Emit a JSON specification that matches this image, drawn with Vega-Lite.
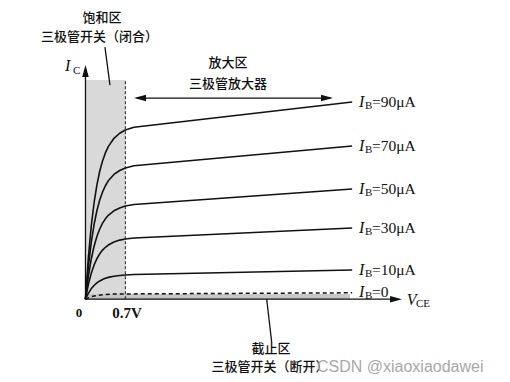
{
  "$schema": "https://vega.github.io/schema/vega-lite/v6.json",
  "width": 510,
  "height": 382,
  "padding": 0,
  "autosize": {"type": "fit", "contains": "padding"},
  "background": "white",
  "config": {"view": {"stroke": null}},
  "datasets": {
    "curves": [
      {"ib": "90", "v": 0, "i": 0}, {"ib": "90", "v": 0.05, "i": 2.19}, {"ib": "90", "v": 0.1, "i": 3.84}, {"ib": "90", "v": 0.15, "i": 5.10}, {"ib": "90", "v": 0.2, "i": 6.06}, {"ib": "90", "v": 0.25, "i": 6.80}, {"ib": "90", "v": 0.3, "i": 7.35}, {"ib": "90", "v": 0.35, "i": 7.78}, {"ib": "90", "v": 0.4, "i": 8.11}, {"ib": "90", "v": 0.5, "i": 8.55}, {"ib": "90", "v": 0.6, "i": 8.82}, {"ib": "90", "v": 0.7, "i": 8.99}, {"ib": "90", "v": 0.85, "i": 9.14}, {"ib": "90", "v": 4.68, "i": 10.48},
      {"ib": "70", "v": 0, "i": 0}, {"ib": "70", "v": 0.05, "i": 1.70}, {"ib": "70", "v": 0.1, "i": 2.98}, {"ib": "70", "v": 0.15, "i": 3.95}, {"ib": "70", "v": 0.2, "i": 4.70}, {"ib": "70", "v": 0.25, "i": 5.27}, {"ib": "70", "v": 0.3, "i": 5.70}, {"ib": "70", "v": 0.35, "i": 6.03}, {"ib": "70", "v": 0.4, "i": 6.29}, {"ib": "70", "v": 0.5, "i": 6.63}, {"ib": "70", "v": 0.6, "i": 6.84}, {"ib": "70", "v": 0.7, "i": 6.97}, {"ib": "70", "v": 0.85, "i": 7.09}, {"ib": "70", "v": 4.68, "i": 8.14},
      {"ib": "50", "v": 0, "i": 0}, {"ib": "50", "v": 0.05, "i": 1.20}, {"ib": "50", "v": 0.1, "i": 2.11}, {"ib": "50", "v": 0.15, "i": 2.80}, {"ib": "50", "v": 0.2, "i": 3.33}, {"ib": "50", "v": 0.25, "i": 3.73}, {"ib": "50", "v": 0.3, "i": 4.04}, {"ib": "50", "v": 0.35, "i": 4.27}, {"ib": "50", "v": 0.4, "i": 4.46}, {"ib": "50", "v": 0.5, "i": 4.70}, {"ib": "50", "v": 0.6, "i": 4.85}, {"ib": "50", "v": 0.7, "i": 4.95}, {"ib": "50", "v": 0.85, "i": 5.03}, {"ib": "50", "v": 4.68, "i": 5.86},
      {"ib": "30", "v": 0, "i": 0}, {"ib": "30", "v": 0.05, "i": 0.78}, {"ib": "30", "v": 0.1, "i": 1.36}, {"ib": "30", "v": 0.15, "i": 1.81}, {"ib": "30", "v": 0.2, "i": 2.15}, {"ib": "30", "v": 0.25, "i": 2.41}, {"ib": "30", "v": 0.3, "i": 2.61}, {"ib": "30", "v": 0.35, "i": 2.76}, {"ib": "30", "v": 0.4, "i": 2.88}, {"ib": "30", "v": 0.5, "i": 3.04}, {"ib": "30", "v": 0.6, "i": 3.14}, {"ib": "30", "v": 0.7, "i": 3.20}, {"ib": "30", "v": 0.85, "i": 3.25}, {"ib": "30", "v": 4.68, "i": 3.78},
      {"ib": "10", "v": 0, "i": 0}, {"ib": "10", "v": 0.05, "i": 0.31}, {"ib": "10", "v": 0.1, "i": 0.55}, {"ib": "10", "v": 0.15, "i": 0.73}, {"ib": "10", "v": 0.2, "i": 0.87}, {"ib": "10", "v": 0.25, "i": 0.97}, {"ib": "10", "v": 0.3, "i": 1.05}, {"ib": "10", "v": 0.35, "i": 1.11}, {"ib": "10", "v": 0.4, "i": 1.16}, {"ib": "10", "v": 0.5, "i": 1.22}, {"ib": "10", "v": 0.6, "i": 1.26}, {"ib": "10", "v": 0.7, "i": 1.29}, {"ib": "10", "v": 0.85, "i": 1.31}, {"ib": "10", "v": 4.68, "i": 1.55}
    ],
    "cutoff": [
      {"v": 0, "i": 0}, {"v": 0.05, "i": 0.07}, {"v": 0.1, "i": 0.13}, {"v": 0.15, "i": 0.17}, {"v": 0.2, "i": 0.2}, {"v": 0.3, "i": 0.24}, {"v": 0.45, "i": 0.27}, {"v": 0.7, "i": 0.28}, {"v": 4.68, "i": 0.34}
    ],
    "regions": [
      {"region": "saturation", "v": 0, "v2": 0.7, "i": 0, "i2": 11.65},
      {"region": "cutoff", "v": 0, "v2": 4.64, "i": 0, "i2": 0.28}
    ],
    "segments": [
      {"seg": "yaxis", "v": 0, "v2": 0, "i": 0, "i2": 12.2},
      {"seg": "xaxis", "v": 0, "v2": 5.4, "i": 0, "i2": 0},
      {"seg": "active", "v": 0.9, "v2": 4.3, "i": 10.69, "i2": 10.69},
      {"seg": "leader1", "v": 0.342, "v2": 0.43, "i": 13.4, "i2": 11.38},
      {"seg": "leader2", "v": 3.18, "v2": 3.268, "i": 0.01, "i2": -2.29}
    ],
    "heads": [
      {"dir": "up", "v": 0, "i": 12.13},
      {"dir": "right", "v": 5.45, "i": 0},
      {"dir": "left", "v": 0.957, "i": 10.69},
      {"dir": "right", "v": 4.238, "i": 10.69}
    ],
    "labels": [
      {"role": "cjk", "text": "饱和区", "v": 0.29, "i": 14.94},
      {"role": "cjk", "text": "三极管开关（闭合）", "v": 0.246, "i": 13.93},
      {"role": "cjk", "text": "放大区", "v": 2.5, "i": 12.55},
      {"role": "cjk", "text": "三极管放大器", "v": 2.5, "i": 11.44},
      {"role": "cjk", "text": "截止区", "v": 3.256, "i": -2.66},
      {"role": "cjk", "text": "三极管开关（断开）", "v": 3.24, "i": -3.61},
      {"role": "ital", "text": "I", "v": -0.36, "i": 12.39},
      {"role": "sub", "text": "C", "v": -0.219, "i": 12.13},
      {"role": "ital", "text": "V", "v": 5.64, "i": -0.04},
      {"role": "sub", "text": "CE", "v": 5.8, "i": -0.26},
      {"role": "ital", "text": "I", "v": 4.8, "i": 10.48},
      {"role": "sub", "text": "B", "v": 4.905, "i": 10.27},
      {"role": "val", "text": "=90μA", "v": 5.028, "i": 10.48},
      {"role": "ital", "text": "I", "v": 4.8, "i": 8.14},
      {"role": "sub", "text": "B", "v": 4.905, "i": 7.93},
      {"role": "val", "text": "=70μA", "v": 5.028, "i": 8.14},
      {"role": "ital", "text": "I", "v": 4.8, "i": 5.86},
      {"role": "sub", "text": "B", "v": 4.905, "i": 5.65},
      {"role": "val", "text": "=50μA", "v": 5.028, "i": 5.86},
      {"role": "ital", "text": "I", "v": 4.8, "i": 3.78},
      {"role": "sub", "text": "B", "v": 4.905, "i": 3.57},
      {"role": "val", "text": "=30μA", "v": 5.028, "i": 3.78},
      {"role": "ital", "text": "I", "v": 4.8, "i": 1.55},
      {"role": "sub", "text": "B", "v": 4.905, "i": 1.34},
      {"role": "val", "text": "=10μA", "v": 5.028, "i": 1.55},
      {"role": "ital", "text": "I", "v": 4.8, "i": 0.38},
      {"role": "sub", "text": "B", "v": 4.905, "i": 0.17},
      {"role": "val", "text": "=0", "v": 5.028, "i": 0.38},
      {"role": "tick", "text": "0", "v": -0.114, "i": -0.73},
      {"role": "tickc", "text": "0.7V", "v": 0.728, "i": -0.73},
      {"role": "wm", "text": "CSDN @xiaoxiaodawei", "v": 4.063, "i": -3.61}
    ]
  },
  "encoding": {
    "x": {"field": "v", "type": "quantitative", "scale": {"domain": [-1.5, 7.45], "nice": false, "zero": false}, "axis": null},
    "y": {"field": "i", "type": "quantitative", "scale": {"domain": [-4.4, 15.9], "nice": false, "zero": false}, "axis": null}
  },
  "layer": [
    {
      "data": {"name": "regions"},
      "transform": [{"filter": "datum.region === 'saturation'"}],
      "mark": {"type": "rect", "color": "#d9d9d9"},
      "encoding": {"x2": {"field": "v2"}, "y2": {"field": "i2"}}
    },
    {
      "data": {"name": "regions"},
      "transform": [{"filter": "datum.region === 'cutoff'"}],
      "mark": {"type": "rect", "color": "#c6c6c6"},
      "encoding": {"x2": {"field": "v2"}, "y2": {"field": "i2"}}
    },
    {
      "data": {"name": "regions"},
      "transform": [{"filter": "datum.region === 'saturation'"}],
      "mark": {"type": "rule", "color": "#222", "strokeWidth": 1, "strokeDash": [3, 2]},
      "encoding": {"x": {"field": "v2", "type": "quantitative"}, "y2": {"field": "i2"}}
    },
    {
      "data": {"name": "segments"},
      "mark": {"type": "rule", "color": "#111", "strokeWidth": 1.3},
      "encoding": {"x2": {"field": "v2"}, "y2": {"field": "i2"}}
    },
    {
      "data": {"name": "curves"},
      "mark": {"type": "line", "color": "#111", "strokeWidth": 1.6, "interpolate": "linear", "strokeJoin": "round"},
      "encoding": {"detail": {"field": "ib"}}
    },
    {
      "data": {"name": "cutoff"},
      "mark": {"type": "line", "color": "#111", "strokeWidth": 1.5, "strokeDash": [4, 3], "interpolate": "linear"},
      "encoding": {}
    },
    {
      "data": {"name": "heads"},
      "mark": {"type": "point", "filled": true, "color": "#111", "opacity": 1, "size": 144, "strokeWidth": 0},
      "encoding": {
        "shape": {"field": "dir", "type": "nominal", "legend": null,
          "scale": {"domain": ["up", "right", "left"], "range": ["M0,-1L0.55,1L-0.55,1Z", "M1,0L-1,-0.55L-1,0.55Z", "M-1,0L1,-0.55L1,0.55Z"]}}
      }
    },
    {
      "data": {"name": "labels"},
      "transform": [{"filter": "datum.role === 'cjk'"}],
      "mark": {"type": "text", "font": "Noto Sans CJK SC", "fontWeight": 500, "fontSize": 13, "color": "#111", "align": "center", "baseline": "middle"},
      "encoding": {"text": {"field": "text"}}
    },
    {
      "data": {"name": "labels"},
      "transform": [{"filter": "datum.role === 'ital'"}],
      "mark": {"type": "text", "font": "Liberation Serif", "fontStyle": "italic", "fontSize": 16, "color": "#111", "align": "left", "baseline": "middle"},
      "encoding": {"text": {"field": "text"}}
    },
    {
      "data": {"name": "labels"},
      "transform": [{"filter": "datum.role === 'sub'"}],
      "mark": {"type": "text", "font": "Liberation Serif", "fontSize": 11, "color": "#111", "align": "left", "baseline": "middle"},
      "encoding": {"text": {"field": "text"}}
    },
    {
      "data": {"name": "labels"},
      "transform": [{"filter": "datum.role === 'val'"}],
      "mark": {"type": "text", "font": "Liberation Serif", "fontSize": 15.5, "color": "#111", "align": "left", "baseline": "middle"},
      "encoding": {"text": {"field": "text"}}
    },
    {
      "data": {"name": "labels"},
      "transform": [{"filter": "datum.role === 'tick'"}],
      "mark": {"type": "text", "font": "Liberation Serif", "fontWeight": "bold", "fontSize": 13, "color": "#111", "align": "center", "baseline": "middle"},
      "encoding": {"text": {"field": "text"}}
    },
    {
      "data": {"name": "labels"},
      "transform": [{"filter": "datum.role === 'tickc'"}],
      "mark": {"type": "text", "font": "Liberation Serif", "fontWeight": "bold", "fontSize": 15, "color": "#111", "align": "center", "baseline": "middle"},
      "encoding": {"text": {"field": "text"}}
    },
    {
      "data": {"name": "labels"},
      "transform": [{"filter": "datum.role === 'wm'"}],
      "mark": {"type": "text", "font": "Liberation Sans", "fontSize": 16, "color": "#a8a8a8", "align": "left", "baseline": "middle"},
      "encoding": {"text": {"field": "text"}}
    }
  ]
}
